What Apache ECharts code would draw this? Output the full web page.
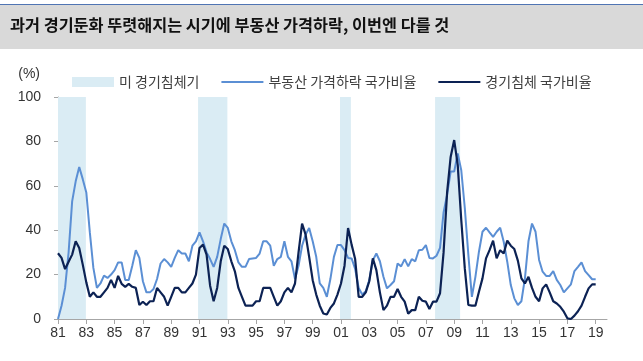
<!DOCTYPE html>
<html><head><meta charset="utf-8">
<script src="https://cdn.jsdelivr.net/npm/echarts@6/dist/echarts.min.js"></script>
<style>html,body{margin:0;padding:0;background:#fff}#c{width:643px;height:361px}</style>
</head><body><div id="c"></div>
<script>
// ---- data ----
const titleText = '과거 경기둔화 뚜렷해지는 시기에 부동산 가격하락, 이번엔 다를 것';
const seriesNames = ['미 경기침체기', '부동산 가격하락 국가비율', '경기침체 국가비율'];
const startYear = 1981;            // quarterly observations, from 1981 Q1
const yearTicks = ['81','83','85','87','89','91','93','95','97','99','01','03','05','07','09','11','13','15','17','19'];
const yTicks = [0, 20, 40, 60, 80, 100];
// US recession periods (start year, end year)
const recessions = [[1981.0, 1982.97], [1990.9, 1992.97], [2000.93, 2001.7], [2007.65, 2009.42]];
// 부동산 가격하락 국가비율 (%), quarterly 1981Q1 - 2019Q1
const housePct = [
  0, 6, 14, 30, 53, 62, 68.5, 63, 57, 39, 23, 14, 16, 19.5, 18.5, 20,
  22, 25.5, 25.5, 17.6, 17.6, 24, 31, 27.5, 17, 12, 12, 13.5, 18, 25, 27, 25.5,
  23.5, 27.5, 31, 29.5, 29.5, 26, 33, 35, 39, 35, 30, 27, 23.5, 28, 36, 43,
  41, 35, 31, 25.5, 23.5, 23.5, 27, 27.3, 27.5, 29.5, 35, 35, 33, 24, 27, 28,
  35, 28, 26, 18, 24, 33, 38, 41, 35, 28, 16, 14, 10, 18, 28, 33.3,
  33.3, 31, 27.5, 27.3, 22.5, 14, 11, 12.5, 17.5, 26.5, 29.5, 26, 19, 13.8, 15.3, 17,
  25, 23.7, 27, 23.7, 27, 26, 31, 31.2, 33.3, 27.5, 27.3, 28.5, 32, 48, 56, 66.4,
  66.4, 74.6, 67, 50, 29, 10, 19, 30.3, 39.3, 41.1, 39, 37, 39.3, 41.1, 34.8, 25.8,
  15.3, 9.3, 6.3, 8, 18.3, 35, 43, 39.3, 26.6, 21.3, 19.4, 19.4, 21.6, 17.6, 15.3, 12,
  13.8, 15.6, 21.6, 23.5, 25.5, 21.6, 19.8, 17.9, 17.9
];
// 경기침체 국가비율 (%), quarterly 1981Q1 - 2019Q1
const recessPct = [
  29.6, 27.5, 22.5, 25.8, 29, 35, 32, 24.5, 16.5, 10, 12, 10, 10, 12, 14, 17.6,
  14, 19.4, 15.8, 14.5, 15.8, 14.5, 14, 6.3, 7.8, 6.3, 8, 8, 14, 12, 10, 6,
  10, 14, 14, 12, 12, 14, 16, 20, 32, 33.5, 29, 15, 8, 14, 26, 33,
  31.5, 26, 21.5, 14, 10, 6, 6, 6, 8, 8, 14, 14, 14, 10, 6, 8,
  12, 14, 12, 16, 30, 43, 38, 28, 17.5, 11, 6, 2.5, 2, 5, 7, 11,
  16, 24, 41, 33.5, 27, 10, 10, 12, 17, 27.3, 22, 12, 4, 6, 10, 10,
  13.5, 10, 7.8, 2.4, 4, 4, 10, 8.2, 7.8, 4.5, 7.8, 7.8, 11.6, 30, 57, 73,
  80.6, 69.4, 44.6, 22.8, 6.3, 6, 6, 12.3, 18.3, 27.3, 31, 35.3, 27.3, 31, 29.5, 35.3,
  33, 31.5, 26.3, 18.3, 16, 19, 14, 10, 8, 13.8, 15.6, 12, 8, 7, 5.5, 3.3,
  0.3, 0, 1.5, 3.5, 6, 10, 13.8, 15.6, 15.6
];

// ---- chart ----
const toPairs = arr => arr.map((v, i) => [i / 4, v]);
const chart = echarts.init(document.getElementById('c'), null, {renderer: 'canvas'});
const axisGrey = '#a6a6a6';
const numFont = 'Liberation Sans, Arial, sans-serif';
const krFont = 'Noto Sans CJK KR, sans-serif';

chart.setOption({
  animation: false,
  backgroundColor: '#ffffff',
  graphic: [
    {type: 'rect', left: 0, top: 4, shape: {width: 643, height: 1}, style: {fill: '#4f74b3'}, silent: true},
    {type: 'rect', left: 0, top: 5, shape: {width: 643, height: 44}, style: {fill: '#d9d9d9'}, silent: true},
    {type: 'text', left: 10, top: 17, style: {text: titleText, font: 'bold 16.3px ' + krFont, fill: '#111'}, silent: true}
  ],
  grid: {left: 58, right: 36, top: 97, bottom: 42, containLabel: false},
  legend: {
    left: 67, top: 70, itemWidth: 42, itemHeight: 10, itemGap: 21,
    textStyle: {fontSize: 14, color: '#404040', fontFamily: krFont},
    data: [
      {name: seriesNames[0], icon: 'rect', itemStyle: {color: '#daecf4'}},
      {name: seriesNames[1], itemStyle: {opacity: 0}},
      {name: seriesNames[2], itemStyle: {opacity: 0}}
    ]
  },
  xAxis: {
    type: 'value', min: 0, max: 38.8, interval: 2,
    axisLine: {show: true, onZero: false, lineStyle: {color: axisGrey, width: 1}},
    axisTick: {show: true, length: 5, lineStyle: {color: axisGrey}},
    splitLine: {show: false},
    axisLabel: {
      margin: 7, fontSize: 14, color: '#333', fontFamily: numFont,
      formatter: v => yearTicks[Math.round(v / 2)] || ''
    }
  },
  yAxis: {
    type: 'value', min: yTicks[0], max: yTicks[yTicks.length - 1], interval: 20,
    name: '(%)', nameLocation: 'end', nameGap: 16,
    nameTextStyle: {fontSize: 14, color: '#333', fontFamily: numFont, align: 'right', padding: [0, 18, 0, 0]},
    axisLine: {show: true, lineStyle: {color: axisGrey, width: 1}},
    axisTick: {show: true, length: 4, lineStyle: {color: axisGrey}},
    splitLine: {show: false},
    axisLabel: {margin: 17, fontSize: 14, color: '#333', fontFamily: numFont}
  },
  series: [
    {
      name: seriesNames[0], type: 'line', data: [], z: 1, color: '#daecf4',
      markArea: {
        silent: true,
        itemStyle: {color: '#daecf4', opacity: 1},
        data: recessions.map(r => [{xAxis: r[0] - startYear, yAxis: 0}, {xAxis: r[1] - startYear, yAxis: 100}])
      }
    },
    {
      name: seriesNames[1], type: 'line', data: toPairs(housePct), symbol: 'none', z: 3,
      color: '#5b8fd4', lineStyle: {color: '#5b8fd4', width: 2}
    },
    {
      name: seriesNames[2], type: 'line', data: toPairs(recessPct), symbol: 'none', z: 4,
      color: '#0c2254', lineStyle: {color: '#0c2254', width: 2.2}
    }
  ]
});
</script>
</body></html>
